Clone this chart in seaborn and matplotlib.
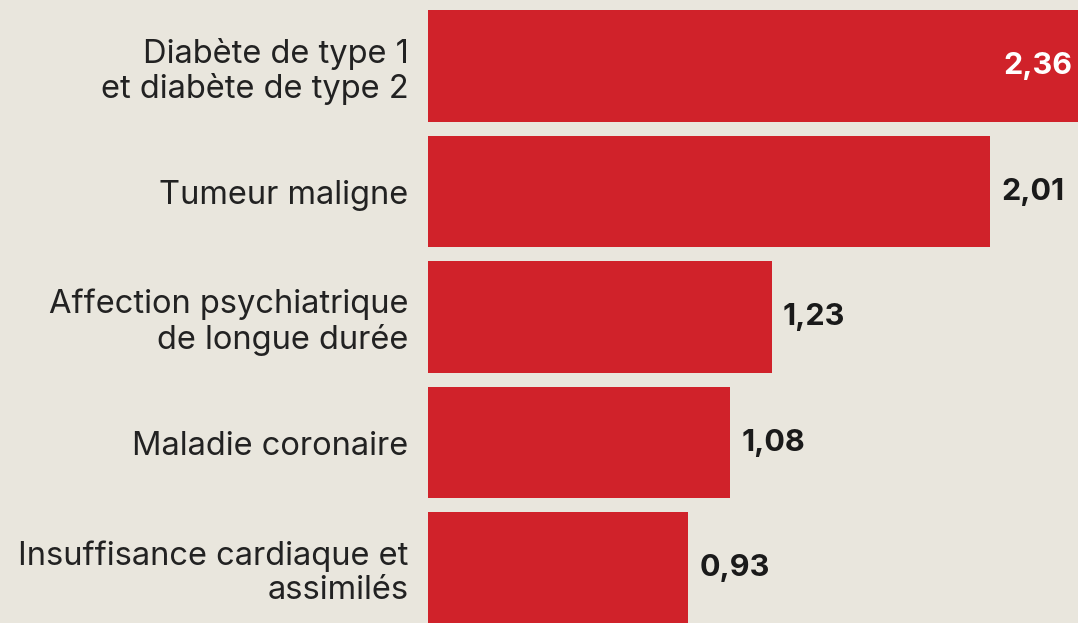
import numpy as np
import pandas as pd
import matplotlib
matplotlib.use("Agg")
import matplotlib.pyplot as plt
import seaborn as sns

# data
categories = ["Diabète de type 1\net diabète de type 2",
              "Tumeur maligne",
              "Affection psychiatrique\nde longue durée",
              "Maladie coronaire",
              "Insuffisance cardiaque et\nassimilés"]
values = [2.36, 2.01, 1.23, 1.08, 0.93]
value_labels = ["2,36", "2,01", "1,23", "1,08", "0,93"]

bg = "#e9e6dd"
red = "#d0222a"

sns.set_theme(style="white")
plt.rcParams['font.family'] = ['Inter', 'DejaVu Sans']

df = pd.DataFrame({"cat": categories, "val": values})

fig = plt.figure(figsize=(10.78, 6.23), dpi=100)
fig.patch.set_facecolor(bg)
ax = fig.add_axes([428/1078, 0, 650/1078, 1])
ax.set_facecolor(bg)

sns.barplot(data=df, y="cat", x="val", orient="h", color=red,
            width=0.89, saturation=1, linewidth=0, ax=ax)

ax.set_xlim(0, 650/279.6)
ax.set_ylim(4.438, -0.526)
ax.set_xlabel("")
ax.set_ylabel("")
ax.set_xticks([])
for s in ax.spines.values():
    s.set_visible(False)
ax.tick_params(axis="y", length=0, pad=14, labelsize=23.5, labelcolor="#222222")
for lbl in ax.get_yticklabels():
    lbl.set_linespacing(1.15)

# value labels
for i, (v, t) in enumerate(zip(values, value_labels)):
    if v > 2.2:
        ax.annotate(t, (v, i), xytext=(-11, 0), textcoords="offset points",
                    ha="right", va="center", fontsize=22, fontweight="bold",
                    color="white", annotation_clip=False)
    else:
        ax.annotate(t, (v, i), xytext=(8, 0), textcoords="offset points",
                    ha="left", va="center", fontsize=22, fontweight="bold",
                    color="#1a1a1a")

fig.savefig("out.png", dpi=100, facecolor=bg)
